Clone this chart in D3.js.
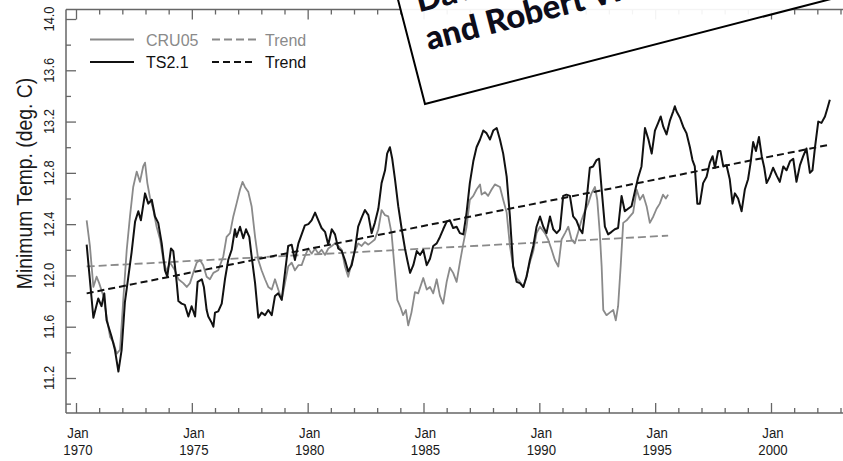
<!DOCTYPE html>
<html>
<head>
<meta charset="utf-8">
<script src="https://cdnjs.cloudflare.com/ajax/libs/d3/7.8.5/d3.min.js"></script>
<style>
  body { margin: 0; background: #fff; }
  svg { display: block; }
</style>
</head>
<body>
<svg id="chart"></svg>
<script>
const width = 843;
const height = 461;

// TS2.1 series (decimal year, deg C)
const tsYears = [1970.46,1970.75,1970.96,1971.10,1971.22,1971.32,1971.54,1971.68,1971.83,1971.97,
  1972.11,1972.26,1972.40,1972.55,1972.69,1972.80,1972.98,1973.12,1973.27,1973.41,1973.55,1973.70,
  1973.84,1973.94,1974.10,1974.20,1974.35,1974.42,1974.56,1974.70,1974.85,1974.99,1975.14,1975.25,
  1975.43,1975.52,1975.64,1975.71,1975.86,1975.93,1976.00,1976.14,1976.29,1976.43,1976.57,1976.72,
  1976.86,1976.93,1977.08,1977.22,1977.34,1977.48,1977.58,1977.73,1977.87,1978.01,1978.16,1978.30,
  1978.45,1978.59,1978.73,1978.88,1979.02,1979.16,1979.31,1979.45,1979.60,1979.74,1979.88,1980.03,
  1980.17,1980.32,1980.46,1980.60,1980.75,1980.89,1981.04,1981.18,1981.32,1981.47,1981.61,1981.75,
  1981.90,1982.04,1982.18,1982.33,1982.47,1982.62,1982.76,1982.90,1983.05,1983.19,1983.34,1983.43,
  1983.55,1983.65,1983.77,1983.91,1984.06,1984.20,1984.30,1984.42,1984.56,1984.71,1984.85,1984.99,
  1985.14,1985.28,1985.42,1985.57,1985.71,1985.85,1986.00,1986.14,1986.28,1986.43,1986.57,1986.72,
  1986.86,1987.00,1987.15,1987.29,1987.44,1987.58,1987.72,1987.87,1988.01,1988.16,1988.30,1988.44,
  1988.59,1988.73,1988.87,1989.02,1989.16,1989.31,1989.45,1989.59,1989.74,1989.88,1990.03,1990.17,
  1990.31,1990.46,1990.60,1990.75,1990.89,1991.03,1991.17,1991.32,1991.46,1991.60,1991.75,1991.86,
  1992.04,1992.18,1992.32,1992.47,1992.58,1992.69,1992.83,1992.97,1993.12,1993.26,1993.40,1993.55,
  1993.69,1993.83,1993.98,1994.12,1994.26,1994.41,1994.56,1994.71,1994.85,1994.99,1995.13,1995.24,
  1995.35,1995.49,1995.64,1995.78,1995.85,1995.92,1996.07,1996.21,1996.35,1996.50,1996.61,1996.71,
  1996.82,1996.93,1997.07,1997.22,1997.36,1997.48,1997.58,1997.72,1997.82,1997.94,1998.08,1998.22,
  1998.34,1998.44,1998.58,1998.73,1998.87,1999.01,1999.12,1999.23,1999.35,1999.48,1999.60,1999.71,
  1999.81,1999.95,2000.09,2000.24,2000.38,2000.53,2000.67,2000.82,2000.96,2001.10,2001.25,2001.39,
  2001.53,2001.68,2001.79,2001.90,2002.04,2002.18,2002.33,2002.43,2002.54];
const tsValues = [12.24,11.67,11.82,11.76,11.86,11.65,11.52,11.42,11.25,11.42,
  11.79,11.99,12.18,12.42,12.50,12.43,12.64,12.56,12.59,12.46,12.41,12.25,
  12.04,11.99,12.21,12.19,11.94,11.80,11.78,11.77,11.68,11.76,11.68,11.95,
  11.97,11.91,11.73,11.68,11.63,11.60,11.71,11.72,11.78,11.97,12.12,12.20,
  12.36,12.30,12.38,12.29,12.36,12.30,12.15,11.94,11.67,11.71,11.69,11.73,
  11.69,11.84,11.86,11.81,12.02,12.23,12.24,12.12,12.25,12.32,12.39,12.40,
  12.43,12.49,12.43,12.37,12.34,12.24,12.36,12.32,12.21,12.19,12.12,12.03,
  12.08,12.20,12.38,12.45,12.51,12.47,12.33,12.41,12.52,12.72,12.82,12.95,
  13.00,12.91,12.75,12.54,12.36,12.21,12.12,12.02,12.08,12.19,12.16,12.20,
  12.08,12.13,12.23,12.25,12.30,12.36,12.42,12.43,12.37,12.38,12.33,12.32,
  12.49,12.72,12.89,13.00,13.06,13.13,13.11,13.06,13.13,13.15,13.06,12.95,
  12.77,12.46,12.07,11.95,11.94,11.91,11.99,12.12,12.23,12.38,12.46,12.38,
  12.33,12.46,12.36,12.33,12.36,12.62,12.63,12.62,12.46,12.43,12.36,12.33,
  12.59,12.84,12.85,12.90,12.91,12.67,12.38,12.32,12.34,12.36,12.37,12.62,
  12.50,12.52,12.54,12.65,12.76,12.85,13.15,13.06,12.95,13.13,13.19,13.24,
  13.16,13.10,13.21,13.28,13.32,13.28,13.23,13.16,13.11,13.00,12.90,12.85,
  12.56,12.56,12.72,12.77,12.88,12.93,12.84,12.97,12.97,12.85,12.86,12.75,
  12.56,12.64,12.60,12.50,12.67,12.75,12.88,13.04,12.97,13.08,12.93,12.84,
  12.72,12.77,12.84,12.78,12.73,12.85,12.82,12.89,12.91,12.73,12.86,12.93,
  12.99,12.80,12.82,13.00,13.20,13.19,13.24,13.30,13.37];

// CRU05 series
const cruYears = [1970.46,1970.60,1970.75,1970.89,1971.00,1971.18,1971.32,1971.47,1971.61,1971.76,
  1971.90,1972.04,1972.19,1972.33,1972.47,1972.62,1972.76,1972.90,1972.98,1973.08,1973.19,1973.34,
  1973.48,1973.63,1973.77,1973.91,1974.06,1974.27,1974.42,1974.63,1974.78,1974.92,1975.06,1975.21,
  1975.35,1975.49,1975.64,1975.78,1975.93,1976.14,1976.36,1976.50,1976.65,1976.79,1976.93,1977.08,
  1977.19,1977.29,1977.44,1977.58,1977.73,1977.87,1978.01,1978.16,1978.30,1978.45,1978.59,1978.73,
  1978.88,1979.02,1979.16,1979.31,1979.45,1979.60,1979.74,1979.88,1980.03,1980.17,1980.32,1980.46,
  1980.60,1980.75,1980.89,1981.04,1981.18,1981.32,1981.47,1981.61,1981.75,1981.90,1982.04,1982.18,
  1982.33,1982.47,1982.62,1982.76,1982.90,1983.05,1983.19,1983.34,1983.48,1983.62,1983.77,1983.87,
  1984.01,1984.12,1984.24,1984.34,1984.48,1984.63,1984.77,1984.99,1985.14,1985.28,1985.42,1985.57,
  1985.71,1985.85,1986.00,1986.14,1986.28,1986.43,1986.57,1986.72,1986.86,1987.00,1987.15,1987.29,
  1987.44,1987.51,1987.65,1987.79,1987.94,1988.08,1988.30,1988.44,1988.59,1988.73,1988.87,1989.02,
  1989.16,1989.31,1989.45,1989.59,1989.74,1989.88,1990.03,1990.24,1990.38,1990.53,1990.67,1990.82,
  1990.96,1991.11,1991.25,1991.39,1991.53,1991.68,1991.82,1991.96,1992.11,1992.25,1992.40,1992.50,
  1992.61,1992.69,1992.76,1992.90,1993.04,1993.19,1993.30,1993.40,1993.51,1993.62,1993.77,1993.91,
  1994.05,1994.20,1994.34,1994.48,1994.63,1994.77,1994.92,1995.06,1995.20,1995.34,1995.46,1995.56];
const cruValues = [12.43,12.23,11.91,11.99,11.94,11.84,11.68,11.52,11.48,11.39,
  11.42,11.81,12.20,12.46,12.69,12.81,12.73,12.85,12.88,12.72,12.61,12.51,
  12.38,12.28,12.12,12.03,12.10,12.04,11.97,11.94,11.91,11.94,12.02,12.10,
  12.12,12.08,11.99,11.97,12.02,12.04,12.15,12.30,12.33,12.46,12.56,12.67,
  12.73,12.69,12.65,12.54,12.30,12.12,12.04,11.97,11.91,11.89,11.97,11.89,
  11.81,11.94,12.07,12.10,12.04,12.08,12.08,12.15,12.21,12.17,12.21,12.17,
  12.20,12.16,12.21,12.23,12.25,12.23,12.20,12.07,11.99,12.10,12.19,12.25,
  12.23,12.26,12.24,12.26,12.28,12.36,12.51,12.47,12.46,12.33,12.02,11.81,
  11.75,11.69,11.73,11.61,11.71,11.87,11.86,11.98,11.89,11.91,11.86,11.97,
  11.84,11.78,11.95,12.06,12.02,11.95,12.10,12.25,12.38,12.59,12.62,12.67,
  12.71,12.63,12.65,12.62,12.67,12.71,12.69,12.59,12.49,12.23,12.07,11.98,
  11.95,11.91,12.00,12.10,12.19,12.33,12.38,12.33,12.28,12.20,12.12,12.07,
  12.28,12.33,12.38,12.28,12.25,12.34,12.43,12.50,12.56,12.64,12.69,12.59,
  12.33,12.07,11.73,11.69,11.71,11.73,11.65,11.76,12.07,12.41,12.43,12.46,
  12.49,12.67,12.59,12.63,12.54,12.41,12.46,12.52,12.56,12.63,12.60,12.63];

// linear trends (end points)
const cruTrendYears = [1970.46, 1995.56];
const cruTrendValues = [12.07, 12.31];
const tsTrendYears = [1970.46, 2002.54];
const tsTrendValues = [11.86, 13.02];

const xTickYears = d3.range(1970, 2004);
const xLabelYears = [1970, 1975, 1980, 1985, 1990, 1995, 2000];
const yTicks = d3.range(11.0, 14.01, 0.2).map(v => +v.toFixed(1));
const yLabels = [11.2, 11.6, 12.0, 12.4, 12.8, 13.2, 13.6, 14.0];

const gray = "#8a8a8a";
const dark = "#111";
const axisColor = "#666";
const plotLeft = 66, plotTop = 9.5, plotBottom = 413;

const svg = d3.select("#chart")
  .attr("width", width)
  .attr("height", height)
  .style("font-family", "'Liberation Sans', Arial, sans-serif");

const x = d3.scaleLinear().domain([1970, 2000]).range([76, 771]);
const y = d3.scaleLinear().domain([11.2, 14.0]).range([378, 19]);

const isMajorX = d => d % 5 === 0;
const isMajorY = d => yLabels.some(v => Math.abs(v - d) < 1e-6);

// bottom axis
const xAxisB = svg.append("g")
  .attr("transform", `translate(0,${plotBottom})`)
  .call(d3.axisBottom(x).tickValues(xTickYears).tickSizeInner(-5).tickSizeOuter(0).tickFormat(""));
xAxisB.select(".domain").remove();
xAxisB.selectAll(".tick line").attr("y2", d => isMajorX(d) ? -10 : -5);

// top axis
const xAxisT = svg.append("g")
  .attr("transform", `translate(0,${plotTop})`)
  .call(d3.axisTop(x).tickValues(xTickYears).tickSizeInner(-5).tickSizeOuter(0).tickFormat(""));
xAxisT.select(".domain").remove();
xAxisT.selectAll(".tick line").attr("y2", d => isMajorX(d) ? 10 : 5);

// left axis
const yAxis = svg.append("g")
  .attr("transform", `translate(${plotLeft},0)`)
  .call(d3.axisLeft(y).tickValues(yTicks).tickSizeInner(-5).tickSizeOuter(0).tickFormat(""));
yAxis.select(".domain").remove();
yAxis.selectAll(".tick line").attr("x2", d => isMajorY(d) ? 10 : 5);

svg.selectAll(".tick line").attr("stroke", axisColor).attr("stroke-width", 1.3);

// frame lines
svg.append("line").attr("x1", plotLeft).attr("x2", plotLeft).attr("y1", plotTop).attr("y2", plotBottom)
  .attr("stroke", axisColor).attr("stroke-width", 1.5);
svg.append("line").attr("x1", plotLeft).attr("x2", width + 10).attr("y1", plotBottom).attr("y2", plotBottom)
  .attr("stroke", axisColor).attr("stroke-width", 1.5);
svg.append("line").attr("x1", plotLeft).attr("x2", width + 10).attr("y1", plotTop).attr("y2", plotTop)
  .attr("stroke", axisColor).attr("stroke-width", 1.3);

// x labels (two lines)
const xl = svg.append("g").selectAll("g")
  .data(xLabelYears).enter().append("g")
  .attr("transform", d => `translate(${x(d) + 2},0) scale(0.88,1)`);
xl.append("text").attr("y", 438).attr("text-anchor", "middle")
  .attr("font-size", 15).attr("fill", "#1a1a1a").text("Jan");
xl.append("text").attr("y", 455).attr("text-anchor", "middle")
  .attr("font-size", 15).attr("fill", "#1a1a1a").text(d => d);

// y labels (rotated)
svg.append("g").selectAll("text")
  .data(yLabels).enter().append("text")
  .attr("transform", d => `translate(53.5,${y(d)}) rotate(-90) scale(0.86,1)`)
  .attr("text-anchor", "middle")
  .attr("font-size", 15)
  .attr("fill", "#1a1a1a")
  .text(d => d.toFixed(1));

svg.append("text")
  .attr("transform", `translate(32,183.5) rotate(-90) scale(0.9,1)`)
  .attr("text-anchor", "middle")
  .attr("font-size", 21.5)
  .attr("fill", "#1a1a1a")
  .text("Minimum Temp. (deg. C)");

// series
const line = d3.line().x(d => x(d[0])).y(d => y(d[1]));
const zip = (a, b) => a.map((v, i) => [v, b[i]]);

svg.append("path").datum(zip(cruTrendYears, cruTrendValues))
  .attr("d", line).attr("fill", "none").attr("stroke", gray)
  .attr("stroke-width", 1.8).attr("stroke-dasharray", "8,4");
svg.append("path").datum(zip(cruYears, cruValues))
  .attr("d", line).attr("fill", "none").attr("stroke", gray)
  .attr("stroke-width", 1.8).attr("stroke-linejoin", "round");
svg.append("path").datum(zip(tsYears, tsValues))
  .attr("d", line).attr("fill", "none").attr("stroke", dark)
  .attr("stroke-width", 2).attr("stroke-linejoin", "round");
svg.append("path").datum(zip(tsTrendYears, tsTrendValues))
  .attr("d", line).attr("fill", "none").attr("stroke", dark)
  .attr("stroke-width", 2).attr("stroke-dasharray", "7,4");

// legend
const legend = svg.append("g").attr("font-size", 16);
const legendRows = [
  { label: "CRU05", color: gray, y: 39.5, w: 1.8, dash: "8,4" },
  { label: "TS2.1", color: dark, y: 62, w: 2, dash: "7,4" }
];
legendRows.forEach(r => {
  legend.append("line").attr("x1", 90).attr("x2", 134).attr("y1", r.y).attr("y2", r.y)
    .attr("stroke", r.color).attr("stroke-width", r.w);
  legend.append("text").attr("x", 146).attr("y", r.y + 6).attr("fill", r.color).text(r.label);
  legend.append("line").attr("x1", 212).attr("x2", 256).attr("y1", r.y).attr("y2", r.y)
    .attr("stroke", r.color).attr("stroke-width", r.w).attr("stroke-dasharray", r.dash);
  legend.append("text").attr("x", 265).attr("y", r.y + 6).attr("fill", r.color).text("Trend");
});

// overlapping paper card
const card = svg.append("g").attr("transform", "translate(425,104) rotate(-14.5)");
card.append("rect").attr("x", 0).attr("y", -260).attr("width", 720).attr("height", 260)
  .attr("fill", "#fff").attr("fill-opacity", 0.93)
  .attr("stroke", "#000").attr("stroke-width", 2);
card.append("text").attr("x", 17).attr("y", -90)
  .attr("font-family", "Lato, 'Open Sans', sans-serif").attr("font-weight", 900)
  .attr("font-size", 33).attr("fill", "#0d0d1a").text("David Stockwell");
card.append("text").attr("x", 17).attr("y", -51)
  .attr("font-family", "Lato, 'Open Sans', sans-serif").attr("font-weight", 900)
  .attr("font-size", 33).attr("fill", "#0d0d1a").text("and Robert W. Wood");
</script>
</body>
</html>
